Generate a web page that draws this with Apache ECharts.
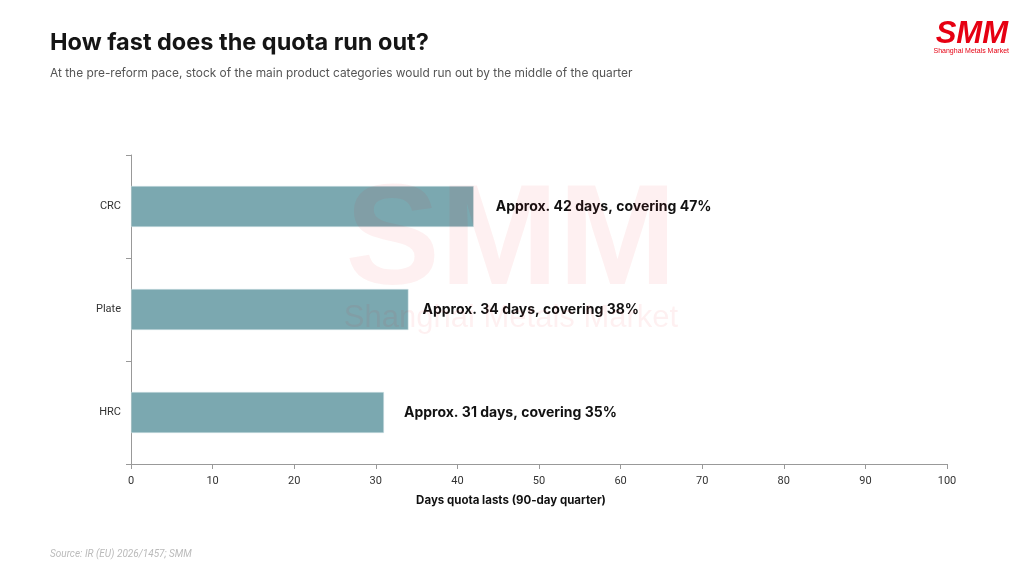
<!DOCTYPE html>
<html><head><meta charset="utf-8">
<script src="https://cdn.jsdelivr.net/npm/echarts@6/dist/echarts.min.js"></script>
<style>html,body{margin:0;padding:0;background:#fff}#c{width:1024px;height:576px}</style>
</head><body><div id="c"></div>
<script>
const categories = ['HRC', 'Plate', 'CRC'];
const days = [31, 34, 42];
const labels = ['Approx. 31 days, covering 35%', 'Approx. 34 days, covering 38%', 'Approx. 42 days, covering 47%'];
const xTicks = [0, 10, 20, 30, 40, 50, 60, 70, 80, 90, 100];
const labelGaps = [20, 14, 22];

const chart = echarts.init(document.getElementById('c'));
chart.setOption({
  backgroundColor: '#fff',
  animation: false,
  grid: { left: 131, right: 77, top: 155, bottom: 112, containLabel: false },
  xAxis: {
    type: 'value', min: xTicks[0], max: xTicks[xTicks.length - 1], interval: 10,
    name: 'Days quota lasts (90-day quarter)', nameLocation: 'middle', nameGap: 31,
    nameTextStyle: { fontFamily: 'Inter', fontWeight: 'bold', fontSize: 11.5, color: '#111', padding: [0, 56, 0, 0] },
    axisLine: { show: true, lineStyle: { color: '#999' } },
    axisTick: { show: true, length: 5, lineStyle: { color: '#999' } },
    axisLabel: { fontFamily: 'Roboto', fontSize: 11, color: '#333', margin: 12 },
    splitLine: { show: false }
  },
  yAxis: {
    type: 'category', data: categories,
    axisLine: { show: true, lineStyle: { color: '#999' } },
    axisTick: { show: true, length: 5, lineStyle: { color: '#999' } },
    axisLabel: { fontFamily: 'Roboto', fontSize: 11, color: '#333', margin: 10 }
  },
  series: [{
    type: 'bar', barWidth: 41,
    data: days.map((v, i) => ({
      value: v,
      label: { show: true, position: 'right', distance: labelGaps[i], formatter: labels[i],
        fontFamily: 'Inter', fontWeight: 'bold', fontSize: 14, color: '#111' }
    })),
    itemStyle: { color: '#7BA8B0', borderColor: '#d6e6e8', borderWidth: 0.5 }
  }],
  graphic: [
    { type: 'text', left: 50, top: 31, style: { text: 'How fast does the quota run out?', fontFamily: 'Inter', fontWeight: 'bold', fontSize: 23.5, fill: '#151515' } },
    { type: 'text', left: 50, top: 67, style: { text: 'At the pre-reform pace, stock of the main product categories would run out by the middle of the quarter', fontFamily: 'Inter', fontSize: 11.9, fill: '#555' } },
    { type: 'text', left: 50, top: 549, style: { text: 'Source: IR (EU) 2026/1457; SMM', fontFamily: 'Roboto', fontStyle: 'italic', fontSize: 10, fill: '#bbb' } },
    { type: 'text', right: 16, top: 19, style: { text: 'SMM', fontFamily: 'Liberation Sans', fontWeight: 'bold', fontStyle: 'italic', fontSize: 31, fill: '#e60012' } },
    { type: 'text', right: 15, top: 48, style: { text: 'Shanghai Metals Market', fontFamily: 'Liberation Sans', fontSize: 7, fill: '#e60012' } },
    { type: 'text', x: 511, y: 245, z: 100, style: { text: 'SMM', align: 'center', verticalAlign: 'middle', fontFamily: 'Liberation Sans', fontWeight: 'bold', fontSize: 142, fill: 'rgba(230,0,18,0.06)' } },
    { type: 'text', x: 511, y: 318, z: 100, style: { text: 'Shanghai Metals Market', align: 'center', verticalAlign: 'middle', fontFamily: 'Liberation Sans', fontSize: 31, fill: 'rgba(230,0,18,0.06)' } }
  ]
});
</script></body></html>
